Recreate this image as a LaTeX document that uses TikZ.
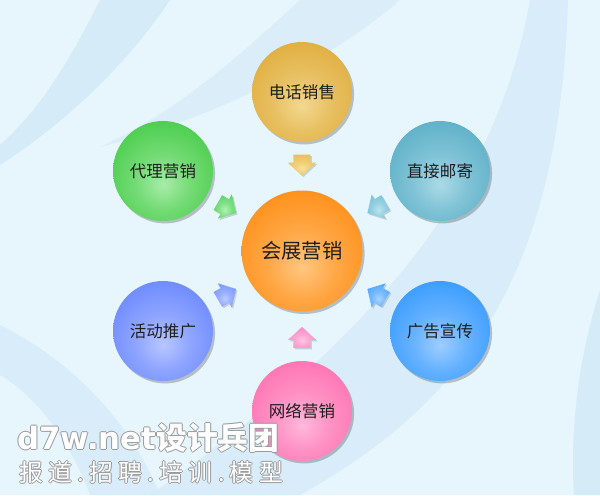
\documentclass[tikz,border=0pt]{standalone}
\usepackage{fontspec}
\setmainfont{DejaVu Sans}
\newfontfamily\cjk{Noto Sans CJK SC}
\newfontfamily\wmlatin{DejaVu Sans}
\usetikzlibrary{shadows,calc}
\definecolor{bgbase}{HTML}{E7F5FD}
\definecolor{bgband}{HTML}{D5EBF8}
\definecolor{wmgray}{HTML}{9A9A9A}
\definecolor{labelcol}{HTML}{1E1E1E}
% ball colours
\definecolor{orIn}{HTML}{FFC680}\definecolor{orOut}{HTML}{FF8200}
\definecolor{goIn}{HTML}{F3D890}\definecolor{goOut}{HTML}{DBA42C}
\definecolor{teIn}{HTML}{AADAE7}\definecolor{teOut}{HTML}{4BA6C0}
\definecolor{blIn}{HTML}{9ECDFF}\definecolor{blOut}{HTML}{2090FF}
\definecolor{piIn}{HTML}{FFB8DB}\definecolor{piOut}{HTML}{FF63A9}
\definecolor{peIn}{HTML}{B8C6FF}\definecolor{peOut}{HTML}{5A7BFF}
\definecolor{grIn}{HTML}{A8ECA8}\definecolor{grOut}{HTML}{33C636}
% arrow colours
\definecolor{agoIn}{HTML}{F8E09C}\definecolor{agoOut}{HTML}{E9B745}
\definecolor{ateIn}{HTML}{BDE4EF}\definecolor{ateOut}{HTML}{68BAD2}
\definecolor{ablIn}{HTML}{AAD5FF}\definecolor{ablOut}{HTML}{3A9BFF}
\definecolor{apiIn}{HTML}{FFC6E3}\definecolor{apiOut}{HTML}{FF7ABD}
\definecolor{apeIn}{HTML}{BCCBFF}\definecolor{apeOut}{HTML}{6A8BFF}
\definecolor{agrIn}{HTML}{B0F2B0}\definecolor{agrOut}{HTML}{45CC55}
\colorlet{incol}{white}\colorlet{midcol}{white}\colorlet{outcol}{gray}\colorlet{edgecol}{gray}
\pgfdeclareradialshading[incol,midcol,outcol,edgecol]{softball}{\pgfpoint{0bp}{-7bp}}{color(0bp)=(incol); color(14bp)=(midcol); color(40bp)=(outcol); color(50bp)=(edgecol); color(70bp)=(edgecol)}
\newcommand\wmout[1]{\leavevmode\rlap{\color{wmgray}\kern0.6pt #1}\rlap{\color{wmgray}\kern-0.6pt #1}\rlap{\color{wmgray}\raisebox{0.6pt}{#1}}\rlap{\color{wmgray}\raisebox{-0.6pt}{#1}}{\color{white}#1}}
\tikzset{
  ballfill/.style 2 args={/utils/exec={\colorlet{incol}{#1}\colorlet{outcol}{#2}\colorlet{midcol}{#1!55!#2}\colorlet{edgecol}{#2!88!black}}, shade, shading=softball},
  ball/.style={circle, inner sep=0pt, minimum size=2cm, text=labelcol,
    font=\cjk\fontsize{9.4pt}{11pt}\selectfont,
    drop shadow={shadow xshift=1.2pt, shadow yshift=-1.4pt, fill=black, opacity=0.22}},
  bigball/.style={ball, minimum size=2.42cm, font=\cjk\fontsize{11.6pt}{13pt}\selectfont},
  pics/blockarrow/.style 2 args={code={
    \path[ballfill={#1}{#2}, drop shadow={shadow xshift=0.8pt, shadow yshift=-0.8pt, fill=black, opacity=0.15}]
      (-10.5,-8.5) -- (-2.5,-8.5) -- (-2.5,-14) -- (10.5,0) -- (-2.5,14) -- (-2.5,8.5) -- (-10.5,8.5) -- cycle;
  }},
}
\begin{document}
\begin{tikzpicture}[x=0.02cm, y=-0.02cm]
\useasboundingbox (0,0) rectangle (600,495);
% background
\fill[bgbase] (0,0) rectangle (600,495);
\fill[bgband] (100,0) .. controls (70,60) and (40,110) .. (0,145) -- (0,165) .. controls (70,120) and (130,60) .. (170,0) -- cycle;
\fill[bgband, opacity=0.7] (300,0) .. controls (240,55) and (180,110) .. (100,147) .. controls (190,125) and (320,70) .. (400,0) -- cycle;
\fill[bgband, opacity=0.8] (530,0) .. controls (505,140) and (430,300) .. (150,495) -- (300,495) .. controls (470,400) and (560,270) .. (568,0) -- cycle;
\fill[bgband, opacity=0.8] (0,325) .. controls (70,360) and (130,420) .. (160,495) -- (90,495) .. controls (70,440) and (35,395) .. (0,375) -- cycle;
\fill[bgband] (600,290) .. controls (578,360) and (570,430) .. (574,495) -- (600,495) -- cycle;
% circles
\node[bigball, ballfill={orIn}{orOut}] (c) at (302,251) {会展营销};
\node[ball, ballfill={goIn}{goOut}] (n1) at (302,92) {电话销售};
\node[ball, ballfill={teIn}{teOut}] (n2) at (440,171) {直接邮寄};
\node[ball, ballfill={blIn}{blOut}] (n3) at (440,331) {广告宣传};
\node[ball, ballfill={piIn}{piOut}] (n4) at (302,411) {网络营销};
\node[ball, ballfill={peIn}{peOut}] (n5) at (163,331) {活动推广};
\node[ball, ballfill={grIn}{grOut}] (n6) at (163,171) {代理营销};
% arrows
\pic[rotate=-90] (a1) at ($(n1)!0.46!(c)$) {blockarrow={agoIn}{agoOut}};
\pic[rotate=-150] (a2) at ($(n2)!0.46!(c)$) {blockarrow={ateIn}{ateOut}};
\pic[rotate=150] (a3) at ($(n3)!0.46!(c)$) {blockarrow={ablIn}{ablOut}};
\pic[rotate=90] (a4) at ($(n4)!0.46!(c)$) {blockarrow={apiIn}{apiOut}};
\pic[rotate=30] (a5) at ($(n5)!0.46!(c)$) {blockarrow={apeIn}{apeOut}};
\pic[rotate=-30] (a6) at ($(n6)!0.46!(c)$) {blockarrow={agrIn}{agrOut}};
% watermark
\node[anchor=west, inner sep=0pt] (wm1) at (17,438) {\wmout{\fontsize{17.5pt}{20pt}\selectfont\wmlatin\bfseries d7w.net\cjk 设计兵团}};
\node[anchor=west, inner sep=0pt] (wm2) at (19,472) {\wmout{\fontsize{13.6pt}{16pt}\selectfont\cjk\addfontfeature{LetterSpace=22}报道.招聘.培训.模型}};
\end{tikzpicture}
\end{document}
